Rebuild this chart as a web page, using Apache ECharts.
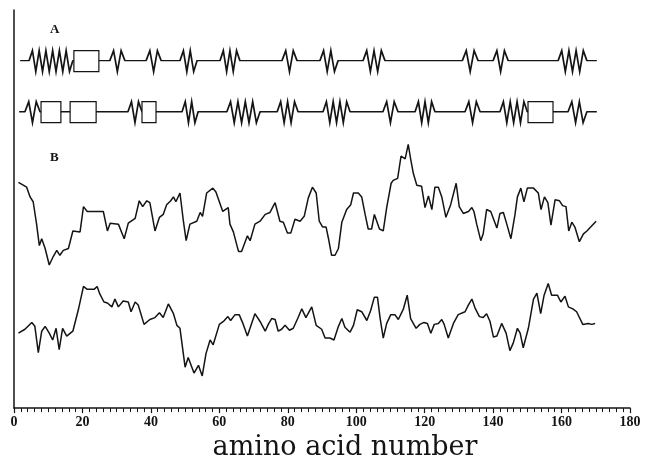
<!DOCTYPE html>
<html><head><meta charset="utf-8">
<script src="https://cdn.jsdelivr.net/npm/echarts@6/dist/echarts.min.js"></script>
<style>html,body{margin:0;padding:0;background:#fff}#c{width:658px;height:466px}</style>
</head><body><div id="c"></div>
<script>
// ---- data (residue numbers; profile values in arbitrary units) ----
const panelLabels = ['A', 'B'];
const xAxisTitle = 'amino acid number';
const row1Span = [[1.8, 170.3]];
const row1Helix = [[4.4,17.2],[28,32.4],[38.6,43],[48.5,53.5],[60.2,66],[78.3,82.7],[89.4,94.7],[102,108.4],[131,135.6],[140,144.4],[159,167.4]];
const row1Sheet = [[17.5,24.8]];
const row2Span = [[1.5, 170.3]];
const row2Helix = [[3.2,7.6],[33.3,37.4],[49.1,53.8],[62.2,71.9],[76.9,83],[90.3,98.2],[107.8,112.2],[117.2,123],[131.8,136.2],[142,150]];
const row2Helix2 = [[161.9,167.4]];
const row2Sheet = [[7.9,13.7],[16.4,24],[37.4,41.5],[150.2,157.5]];
const curveUpper = [[1.3,232],[3.7,227],[4.7,217],[5.6,212],[6.6,189],[7.4,167],[8.1,174],[9.1,164],[10.3,147],[11.5,156],[12.5,162],[13.4,157],[14.4,162],[15.9,164],[17.2,182],[19.3,181],[20.3,207],[21.4,202],[26.1,202],[27.3,182],[28.1,190],[30.5,189],[32.2,174],[33.4,190],[35.4,195],[36.6,213],[37.6,207],[38.8,213],[39.7,211],[41.2,182],[42.5,196],[43.6,199],[44.6,209],[45.8,213],[46.6,217],[47.3,212],[48.5,221],[49.5,192],[50.3,172],[51.4,189],[53.4,192],[54.4,201],[55.1,197],[56.3,221],[58.1,226],[59.0,222],[61.0,202],[62.6,206],[63.1,189],[64.1,181],[65.6,161],[66.5,161],[68.2,177],[69.0,172],[70.4,189],[71.9,192],[73.4,199],[74.8,201],[76.3,211],[77.7,192],[78.7,191],[79.9,180],[80.9,180],[82.1,194],[83.6,192],[84.8,197],[86.0,216],[87.2,227],[88.3,221],[89.2,192],[90.2,186],[91.2,186],[91.9,174],[92.8,157],[93.8,157],[94.8,164],[95.8,191],[97.2,204],[98.4,209],[99.2,221],[100.6,221],[101.6,217],[102.6,199],[103.5,184],[104.5,184],[105.3,199],[106.8,184],[107.9,182],[108.9,206],[110.2,231],[110.8,234],[112.1,236],[113.1,259],[114.3,256],[115.2,271],[115.9,256],[116.7,241],[117.7,229],[119.1,228],[120.1,206],[121.1,218],[122.1,204],[123.0,227],[124.0,227],[125.0,217],[126.2,196],[127.6,209],[129.2,231],[130.1,207],[131.3,200],[132.8,202],[133.8,206],[134.4,202],[135.2,189],[136.4,172],[137.1,179],[138.1,204],[139.3,202],[141.1,185],[142.0,200],[143.0,201],[144.0,189],[145.2,174],[146.4,199],[147.1,217],[148.1,226],[149.0,212],[150.0,226],[151.8,226],[153.2,221],[154.0,204],[155.0,217],[156.0,211],[156.9,188],[158.1,214],[159.4,213],[160.3,208],[161.3,207],[162.1,182],[163.0,191],[163.9,186],[165.2,171],[166.4,179],[167.4,182],[168.5,186],[170.1,192]];
const curveLower = [[1.3,77],[3.2,81],[5.2,88],[6.1,84],[7.1,57],[8.1,79],[9.1,84],[10.3,77],[11.3,70],[12.3,82],[13.2,60],[14.2,82],[15.4,74],[17.2,79],[18.8,101],[20.3,125],[21.4,122],[23.4,122],[24.3,125],[25.1,117],[26.3,109],[27.3,108],[28.6,104],[29.5,112],[30.5,104],[31.9,110],[33.4,109],[34.2,99],[35.4,109],[36.3,106],[38.0,86],[39.7,91],[41.2,93],[42.5,98],[43.6,93],[45.1,107],[46.6,97],[47.6,85],[48.5,82],[50.0,42],[50.9,52],[52.6,36],[53.9,44],[55.0,33],[56.1,56],[57.3,70],[58.2,65],[60.0,86],[61.2,89],[62.5,94],[63.3,90],[64.6,96],[65.8,96],[67.0,86],[68.2,74],[70.4,97],[71.9,89],[73.4,79],[74.3,86],[75.3,92],[76.3,91],[77.2,79],[78.2,81],[79.2,85],[80.5,80],[81.6,82],[82.9,92],[84.1,102],[85.3,93],[87.0,104],[88.3,85],[89.9,81],[90.9,72],[92.3,72],[93.5,70],[94.8,84],[95.8,92],[96.7,83],[98.2,78],[99.2,85],[100.3,101],[101.6,99],[103.1,90],[104.2,100],[105.3,114],[106.2,114],[107.0,92],[107.9,72],[108.9,87],[110.1,96],[111.3,96],[112.3,91],[113.8,102],[114.9,116],[115.9,92],[117.5,82],[118.6,86],[119.8,88],[120.8,87],[121.8,77],[122.8,86],[124.0,87],[125.0,91],[125.7,86],[126.9,72],[128.4,87],[129.8,96],[131.8,99],[132.8,106],[133.8,112],[134.7,103],[136.0,94],[137.1,93],[138.1,97],[139.1,89],[140.1,73],[141.1,74],[142.5,87],[143.8,77],[144.9,59],[145.9,67],[147.1,82],[147.9,77],[148.8,62],[150.3,82],[151.8,112],[152.8,118],[153.9,97],[154.9,116],[156.1,128],[157.1,116],[158.8,116],[159.8,109],[161.0,115],[162.0,104],[163.3,102],[164.4,99],[166.2,86],[167.8,87],[168.8,86],[169.8,87]];

// ---- layout (value-axis levels of the two structure rows) ----
const ROW1 = 357, ROW2 = 304.5;
const INK = '#141414';

function withLevel(segs, lvl) { return segs.map(s => [s[0], s[1], lvl]); }

function coilItem(params, api) {
  const s = api.coord([api.value(0), api.value(2)]);
  const e = api.coord([api.value(1), api.value(2)]);
  return { type: 'line', shape: { x1: s[0], y1: s[1], x2: e[0], y2: e[1] },
    style: { stroke: INK, lineWidth: 1.4 } };
}
function helixItem(params, api) {
  const s = api.coord([api.value(0), api.value(2)]);
  const e = api.coord([api.value(1), api.value(2)]);
  const len = e[0] - s[0];
  const n = Math.max(3, Math.round(len / 3.5));
  const step = len / n;
  const pts = [[s[0], s[1]]];
  for (let i = 1; i < n; i++) {
    pts.push([s[0] + i * step, s[1] + (i % 2 ? -10 : 11)]);
  }
  pts.push([e[0], e[1]]);
  return { type: 'group', children: [
    { type: 'rect', shape: { x: s[0] + 0.5, y: s[1] - 3, width: len - 1, height: 6 },
      style: { fill: '#fff' } },
    { type: 'polyline', shape: { points: pts },
      style: { stroke: INK, lineWidth: 1.7, fill: null, lineJoin: 'miter' } }
  ] };
}
function sheetItem(params, api) {
  const s = api.coord([api.value(0), api.value(2)]);
  const e = api.coord([api.value(1), api.value(2)]);
  return { type: 'rect', shape: { x: s[0], y: s[1] - 10, width: e[0] - s[0], height: 21 },
    style: { fill: '#fff', stroke: INK, lineWidth: 1.2 } };
}

function custom(data, fn, z) {
  return { type: 'custom', renderItem: fn, data: data, z: z,
    encode: { x: [0, 1], y: 2 }, silent: true };
}

const chart = echarts.init(document.getElementById('c'), null, { renderer: 'canvas' });
chart.setOption({
  animation: false,
  backgroundColor: '#fff',
  grid: { left: 14, right: 28, top: 10, bottom: 47, containLabel: false },
  xAxis: {
    type: 'value', min: 0, max: 180, interval: 20,
    axisLine: { show: true, onZero: false, lineStyle: { color: INK, width: 1.5 } },
    axisTick: { show: true, inside: false, length: 5, lineStyle: { color: INK, width: 1.2 } },
    minorTick: { show: true, splitNumber: 10, length: 4, lineStyle: { color: INK, width: 1 } },
    splitLine: { show: false },
    axisLabel: { color: INK, fontFamily: 'Liberation Serif', fontWeight: 'bold', fontSize: 14, margin: 7 },
    name: xAxisTitle, nameLocation: 'middle', nameGap: 21,
    nameTextStyle: { color: INK, fontFamily: 'DejaVu Serif', fontSize: 27, padding: [0, 0, 0, 46] }
  },
  yAxis: {
    type: 'value', min: 0, max: 409,
    axisLine: { show: true, onZero: false, lineStyle: { color: INK, width: 1.5 } },
    axisTick: { show: false }, axisLabel: { show: false }, splitLine: { show: false }
  },
  graphic: [
    { type: 'text', left: 50, top: 23, style: { text: panelLabels[0], font: 'bold 13px "Liberation Serif"', fill: INK } },
    { type: 'text', left: 50, top: 151, style: { text: panelLabels[1], font: 'bold 13px "Liberation Serif"', fill: INK } }
  ],
  series: [
    custom(withLevel(row1Span, ROW1).concat(withLevel(row2Span, ROW2)), coilItem, 1),
    custom(withLevel(row1Helix, ROW1).concat(withLevel(row2Helix, ROW2), withLevel(row2Helix2, ROW2)), helixItem, 2),
    custom(withLevel(row1Sheet, ROW1).concat(withLevel(row2Sheet, ROW2)), sheetItem, 3),
    { type: 'line', data: curveUpper, showSymbol: false, smooth: false,
      lineStyle: { color: INK, width: 1.5 }, z: 4, silent: true },
    { type: 'line', data: curveLower, showSymbol: false, smooth: false,
      lineStyle: { color: INK, width: 1.5 }, z: 4, silent: true }
  ]
});
</script>
</body></html>
